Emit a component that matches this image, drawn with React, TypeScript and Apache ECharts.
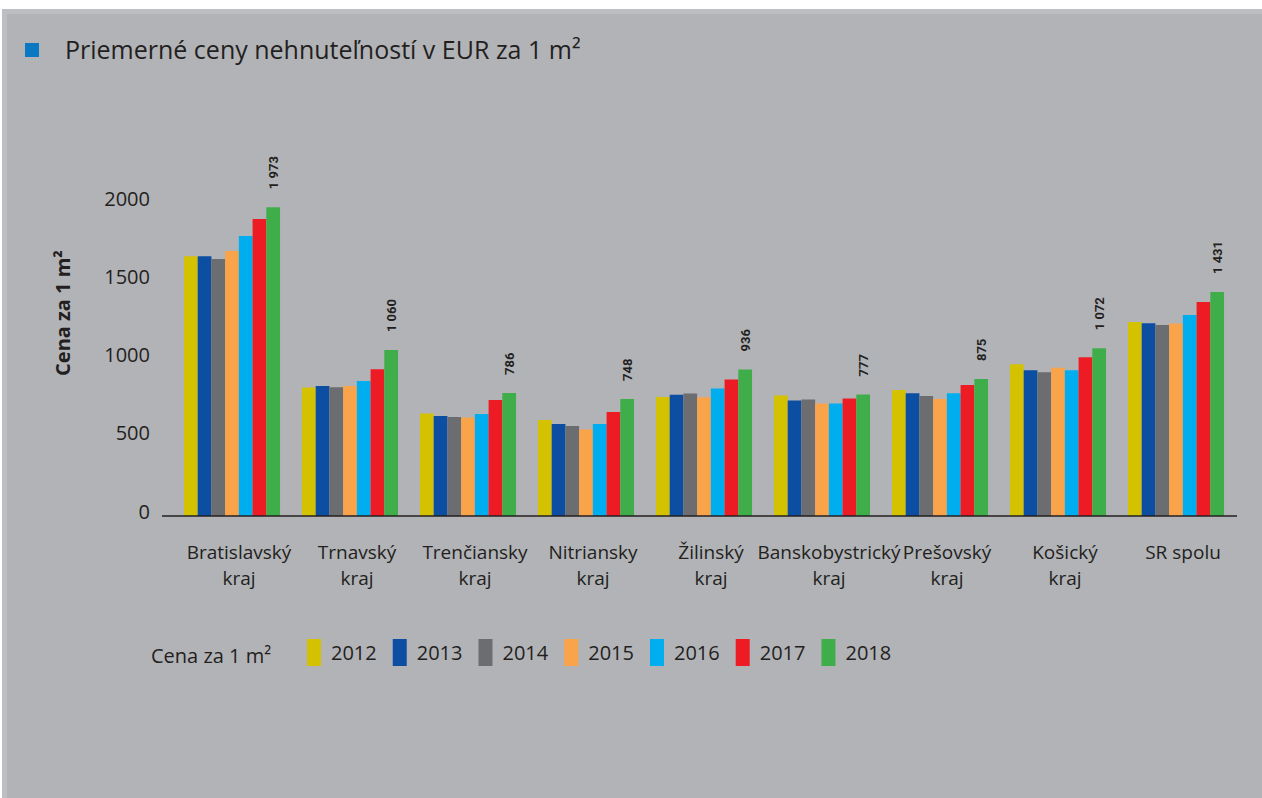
import React, { useEffect, useRef } from "react";
import * as echarts from "echarts";

const categories = [
  "Bratislavský kraj",
  "Trnavský kraj",
  "Trenčiansky kraj",
  "Nitriansky kraj",
  "Žilinský kraj",
  "Banskobystrický kraj",
  "Prešovský kraj",
  "Košický kraj",
  "SR spolu",
];

const years = ["2012", "2013", "2014", "2015", "2016", "2017", "2018"];

const v2012 = [1659, 821, 655, 613, 760, 770, 805, 970, 1239];
const v2013 = [1660, 830, 639, 588, 775, 738, 785, 931, 1232];
const v2014 = [1642, 823, 632, 575, 782, 745, 766, 918, 1220];
const v2015 = [1693, 830, 630, 553, 758, 719, 747, 948, 1230];
const v2016 = [1789, 862, 651, 588, 814, 719, 785, 931, 1284];
const v2017 = [1897, 938, 741, 665, 872, 751, 837, 1014, 1367];
const v2018 = [1973, 1060, 786, 748, 936, 777, 875, 1072, 1431];

const seriesValues = [v2012, v2013, v2014, v2015, v2016, v2017, v2018];
const colors = ["#d4c100", "#0b4ea2", "#6c6d71", "#f9a44a", "#00adef", "#ed1c24", "#3fae4a"];

const yTicks = [0, 500, 1000, 1500, 2000];

const titleText = "Priemerné ceny nehnuteľností v EUR za 1 m²";
const yAxisName = "Cena za 1 m²";
const legendLabel = "Cena za 1 m²";

const TEXT = "#231f20";
const FONT = "'Open Sans', sans-serif";

function fmt(v: number): string {
  if (v >= 1000) {
    return Math.floor(v / 1000) + " " + String(v % 1000).padStart(3, "0");
  }
  return String(v);
}

export default function App() {
  const ref = useRef<HTMLDivElement>(null);

  useEffect(() => {
    document.body.style.margin = "0";
    if (!ref.current) return;
    const chart = echarts.init(ref.current, undefined, { renderer: "svg" });

    const series = years.map((y, i) => ({
      name: y,
      type: "bar" as const,
      data: seriesValues[i],
      itemStyle: { color: colors[i] },
      barGap: "0%",
      barCategoryGap: "18.6%",
      label:
        i === years.length - 1
          ? {
              show: true,
              position: "top",
              rotate: 90,
              align: "left",
              verticalAlign: "middle",
              distance: 18,
              fontFamily: "Roboto, sans-serif",
              fontWeight: "bold",
              fontSize: 13,
              color: TEXT,
              formatter: (p: any) => fmt(p.value),
            }
          : { show: false },
    }));

    chart.setOption({
      animation: false,
      backgroundColor: "#ffffff",
      textStyle: { fontFamily: FONT, color: TEXT },
      title: {
        text: titleText,
        left: 60,
        top: 31,
        textStyle: { fontFamily: FONT, fontSize: 25, fontWeight: "normal", color: TEXT },
      },
      legend: {
        data: years,
        left: 302,
        top: 634,
        icon: "rect",
        itemWidth: 14,
        itemHeight: 27,
        itemGap: 16,
        textStyle: {
          fontFamily: FONT,
          fontSize: 20,
          color: TEXT,
          padding: [16, 0, 0, 5],
        },
      },
      grid: { left: 173, right: 27, top: 203, bottom: 282, containLabel: false },
      xAxis: {
        type: "category",
        data: categories,
        axisLine: { show: false },
        axisTick: { show: false },
        axisLabel: {
          interval: 0,
          margin: 23,
          fontFamily: FONT,
          fontSize: 19,
          lineHeight: 26,
          color: TEXT,
          padding: [0, 0, 0, 14],
          formatter: (v: string) => v.replace(" kraj", "\nkraj"),
        },
      },
      yAxis: {
        type: "value",
        min: yTicks[0],
        max: yTicks[yTicks.length - 1],
        interval: 500,
        axisLine: { show: false },
        axisTick: { show: false },
        splitLine: { show: false },
        axisLabel: {
          margin: 23,
          fontFamily: FONT,
          fontSize: 20,
          color: TEXT,
          verticalAlign: "bottom",
          lineHeight: 10,
          formatter: (v: number) => String(v),
        },
      },
      graphic: [
        {
          type: "rect",
          z: -10,
          silent: true,
          shape: { x: 2, y: 9, width: 1262, height: 800 },
          style: { fill: "#bdbec1" },
        },
        {
          type: "rect",
          z: -9,
          silent: true,
          shape: { x: 7, y: 14, width: 1262, height: 800 },
          style: { fill: "#b2b3b7" },
        },
        {
          type: "rect",
          z: 5,
          silent: true,
          shape: { x: 25, y: 43, width: 14, height: 14 },
          style: { fill: "#0a78c2" },
        },
        {
          type: "line",
          z: 100,
          silent: true,
          shape: { x1: 162, y1: 516, x2: 1237, y2: 516 },
          style: { stroke: "#231f20", lineWidth: 1.5 },
        },
        {
          type: "text",
          z: 5,
          x: 62,
          y: 313,
          rotation: Math.PI / 2,
          style: {
            text: yAxisName,
            fontFamily: FONT,
            fontSize: 20,
            fontWeight: "bold",
            fill: TEXT,
            align: "center",
            verticalAlign: "middle",
          },
        },
        {
          type: "text",
          z: 5,
          x: 151,
          y: 655,
          style: {
            text: legendLabel,
            fontFamily: FONT,
            fontSize: 20,
            fill: TEXT,
            align: "left",
            verticalAlign: "middle",
          },
        },
      ],
      series,
    });

    return () => chart.dispose();
  }, []);

  return <div ref={ref} style={{ width: 1262, height: 798 }} />;
}
